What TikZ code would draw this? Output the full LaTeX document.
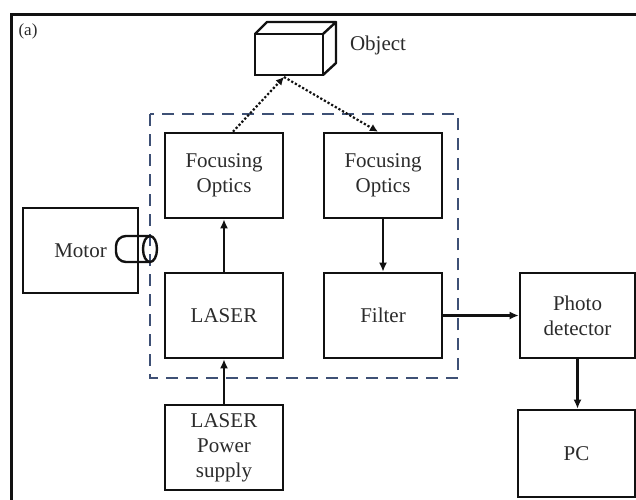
\documentclass[tikz,border=0pt]{standalone}
\usepackage{fontspec}
\setmainfont{Liberation Serif}
\usetikzlibrary{arrows.meta}
\definecolor{ink}{HTML}{111111}
\definecolor{housing}{HTML}{3E5075}
\definecolor{txt}{HTML}{2B2B2B}

\begin{document}
\begin{tikzpicture}[x=1pt, y=-1pt,
    block/.style={draw=ink, line width=2.6pt, fill=white, minimum width=118pt,
      minimum height=85pt, align=center, inner sep=0pt, text=txt,
      font=\fontsize{21}{25}\selectfont},
    link/.style={draw=ink, line width=2.2pt, -{Latex[length=9pt, width=8pt]}},
    ray/.style={draw=ink, line width=2.2pt, dash pattern=on 2.2pt off 2pt,
      -{Latex[length=8pt, width=8pt]}}]
  \useasboundingbox (0,0) rectangle (636,499);
  \clip (0,0) rectangle (636,499);
  \fill[white] (0,0) rectangle (636,499);
  % outer frame, cut by the page edge
  \draw[ink, line width=3pt] (11,14) rectangle (660,530);
  \node[font=\fontsize{17}{20}\selectfont, text=txt] (tag) at (28,31) {(a)};
  % dashed housing
  \draw[housing, line width=2.4pt, dash pattern=on 12pt off 8pt] (150,114) rectangle (458,378);
  % blocks
  \node[block] (fo1)    at (224,175.5) {Focusing\\Optics};
  \node[block] (fo2)    at (383,175.5) {Focusing\\Optics};
  \node[block] (laser)  at (224,315.5) {LASER};
  \node[block] (filter) at (383,315.5) {Filter};
  \node[block] (power)  at (224,447.5) {LASER\\Power\\supply};
  \node[block, minimum width=115pt] (motor) at (80.5,250.5) {Motor};
  \node[block, minimum width=115pt] (photo) at (577.5,315.5) {Photo\\detector};
  \node[block, minimum width=117pt, minimum height=87pt] (pc) at (576.5,453.5) {PC};
  % motor shaft
  \draw[ink, line width=2.4pt, rounded corners=10pt] (150,236) -- (116,236) -- (116,262) -- (150,262);
  \draw[ink, line width=2.4pt] (150,249) ellipse [x radius=7pt, y radius=13pt];
  % object
  \draw[ink, line width=2.4pt, fill=white] (255,34) rectangle (323,75);
  \draw[ink, line width=2.4pt, line join=round]
    (255,34) -- (267,22) -- (336,22) -- (323,34)
    (336,22) -- (336,63) -- (323,75);
  \coordinate (obj) at (284,77);
  \node[font=\fontsize{21}{25}\selectfont, text=txt] (objlabel) at (378,45) {Object};
  % beams
  \draw[ray] ([xshift=9pt]fo1.north) -- (obj);
  \draw[ray] (obj) -- ([xshift=-5pt]fo2.north);
  % signal flow
  \draw[link] (power) -- (laser);
  \draw[link] (laser) -- (fo1);
  \draw[link] (fo2) -- (filter);
  \draw[link] (filter.east) -- (photo.west);
  \draw[link] (photo.south) -- (photo.south |- pc.north);
\end{tikzpicture}
\end{document}
